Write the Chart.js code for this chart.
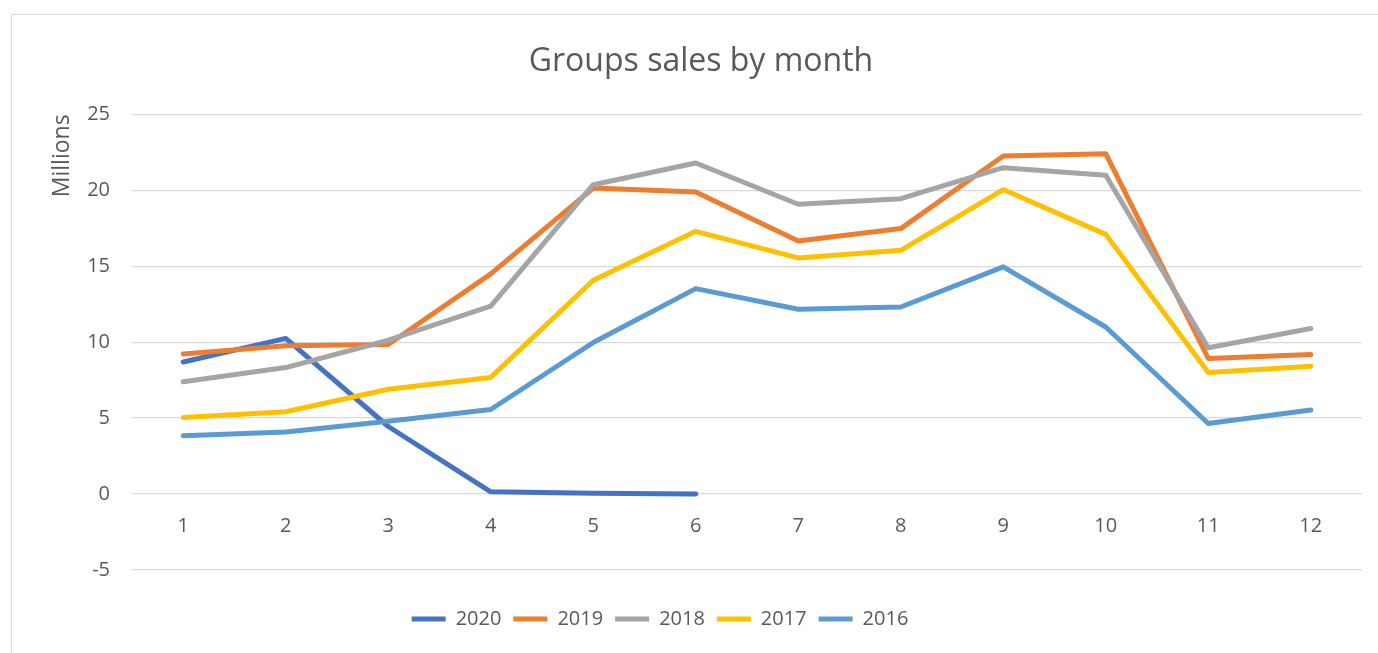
<!DOCTYPE html>
<html>
<head>
<meta charset="utf-8">
<script src="https://cdn.jsdelivr.net/npm/chart.js@4"></script>
<style>
  html, body { margin: 0; padding: 0; background: #fff; overflow: hidden; }
  #frame { position: absolute; left: 11px; top: 14px; width: 1500px; height: 800px; border: 1px solid #d9d9d9; }
  #wrap { position: absolute; left: 0; top: 0; width: 1378px; height: 653px; }
</style>
</head>
<body>
<div id="frame"></div>
<div id="wrap"><canvas id="salesChart"></canvas></div>
<script>
// months on the x axis
const months = ['1', '2', '3', '4', '5', '6', '7', '8', '9', '10', '11', '12'];
// sales in millions
const sales2020 = [8.7, 10.25, 4.45, 0.15, 0.05, 0.0];
const sales2019 = [9.23, 9.76, 9.85, 14.5, 20.15, 19.89, 16.67, 17.48, 22.26, 22.41, 8.93, 9.19];
const sales2018 = [7.39, 8.33, 10.13, 12.37, 20.37, 21.8, 19.08, 19.45, 21.49, 20.99, 9.63, 10.9];
const sales2017 = [5.04, 5.42, 6.9, 7.68, 14.08, 17.3, 15.55, 16.05, 20.05, 17.1, 8.0, 8.42];
const sales2016 = [3.84, 4.08, 4.8, 5.57, 9.98, 13.53, 12.17, 12.32, 14.96, 11.0, 4.65, 5.53];
const yearLabels = ['2020', '2019', '2018', '2017', '2016'];
const yearColors = ['#4472C4', '#ED7D31', '#A5A5A5', '#FFC000', '#5B9BD5'];
const yTicks = [-5, 0, 5, 10, 15, 20, 25];

const textColor = '#595959';
const gridColor = '#d9d9d9';
const fontName = '"Open Sans", sans-serif';

const allSeries = [sales2020, sales2019, sales2018, sales2017, sales2016];

// later years drawn first so 2016 ends on top (like Excel)
const datasets = allSeries.map((vals, i) => ({
    label: yearLabels[i],
    data: vals,
    borderColor: yearColors[i],
    backgroundColor: yearColors[i],
    borderWidth: 5,
    borderCapStyle: 'round',
    borderJoinStyle: 'round',
    pointRadius: 0,
    pointStyle: 'line',
    tension: 0,
    fill: false,
    order: allSeries.length - i
}));

// move the legend a bit to the left, Excel does not center it on the plot
const legendShift = {
    id: 'legendShift',
    afterLayout(chart) {
        const lg = chart.legend;
        if (lg) { lg.left -= 41; lg.right -= 41; }
    }
};

const salesChart = new Chart(document.getElementById('salesChart'), {
    type: 'line',
    data: { labels: months, datasets: datasets },
    plugins: [legendShift],
    options: {
        responsive: true,
        maintainAspectRatio: false,
        animation: false,
        layout: { padding: { left: 40, right: 16, top: 0, bottom: 14 } },
        plugins: {
            title: {
                display: true,
                text: 'Groups sales by month',
                color: textColor,
                font: { family: fontName, size: 32, weight: 'normal' },
                padding: { top: 43, bottom: 33 }
            },
            legend: {
                display: true,
                position: 'bottom',
                title: { display: true, text: ' ', font: { size: 10 }, padding: { top: 15, bottom: 0 } },
                labels: {
                    usePointStyle: true,
                    pointStyleWidth: 34,
                    padding: 12,
                    color: textColor,
                    font: { family: fontName, size: 20 },
                    sort: (a, b) => a.datasetIndex - b.datasetIndex
                }
            },
            tooltip: { enabled: false }
        },
        scales: {
            x: {
                position: { y: 0 },   // labels sit under the zero line
                offset: true,
                grid: { display: false },
                border: { display: false },
                ticks: { color: textColor, font: { family: fontName, size: 20 }, padding: 12, maxRotation: 0 }
            },
            y: {
                min: -5,
                max: 25,
                afterBuildTicks: (scale) => { scale.ticks = yTicks.map(v => ({ value: v })); },
                afterFit: (scale) => { scale.width = 92; },
                grid: { color: gridColor, lineWidth: 1.3, drawTicks: false },
                border: { display: false },
                ticks: { color: textColor, font: { family: fontName, size: 20 }, padding: 22 },
                title: {
                    display: true,
                    text: 'Millions',
                    align: 'end',
                    color: textColor,
                    font: { family: fontName, size: 23 },
                    padding: { top: 9, bottom: 0 }
                }
            }
        }
    }
});
</script>
</body>
</html>
